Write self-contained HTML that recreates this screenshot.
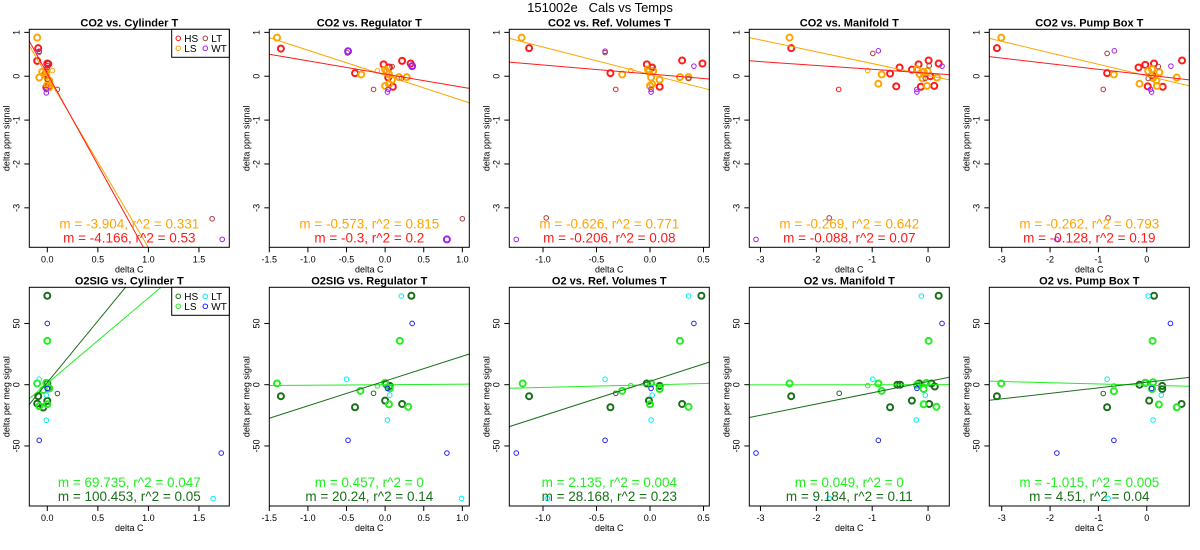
<!DOCTYPE html>
<html><head><meta charset="utf-8"><style>
html,body{margin:0;padding:0;background:#fff;}
svg{display:block;font-family:"Liberation Sans",sans-serif;}
</style></head><body>
<svg id="chart" width="1200" height="550" viewBox="0 0 1200 550" xmlns="http://www.w3.org/2000/svg">
<text x="600" y="12" text-anchor="middle" font-size="13" style="white-space:pre" xml:space="preserve">151002e   Cals vs Temps</text>
</svg>
<script>
// ---- data (x, y, thick flag) ----
const titles = ["CO2 vs. Cylinder T","CO2 vs. Regulator T","CO2 vs. Ref. Volumes T","CO2 vs. Manifold T","CO2 vs. Pump Box T",
 "O2SIG vs. Cylinder T","O2SIG vs. Regulator T","O2 vs. Ref. Volumes T","O2 vs. Manifold T","O2 vs. Pump Box T"];
const xRanges = [[-0.178,1.8],[-1.5,1.09],[-1.315,0.554],[-3.2,0.38],[-3.257,0.88]];
const xTicks = [[0,0.5,1,1.5],[-1.5,-1,-0.5,0,0.5,1],[-1,-0.5,0,0.5],[-3,-2,-1,0],[-3,-2,-1,0]];
const xTickLabels = [["0.0","0.5","1.0","1.5"],["-1.5","-1.0","-0.5","0.0","0.5","1.0"],["-1.0","-0.5","0.0","0.5"],["-3","-2","-1","0"],["-3","-2","-1","0"]];
const yTicksTop = [-3,-2,-1,0,1];
const yTicksBot = [-50,0,50];
const yRangeTop = [-3.9,1.07];
const yRangeBot = [-99,79.5];

const p1_HS=[[-0.09,0.64,1],[-0.1,0.35,1],[0,0.29,1],[0.01,0.28,1],[-0.02,0.05,1],[-0.01,-0.25,1],[0.02,-0.23,1],[0.1,-0.3,0]];
const p1_LS=[[-0.1,0.88,1],[-0.08,-0.03,1],[-0.05,0.1,1],[-0.01,0.1,1],[0.01,-0.09,1],[0,-0.2,1],[0.02,-0.1,1],[0.02,-0.25,1],[-0.01,0.02,1],[0.05,0.13,0]];
const p1_LT=[[-0.08,0.55,0],[1.63,-3.25,0],[0,-0.07,0],[0,0.2,0]];
const p1_WT=[[-0.08,0.57,0],[1.73,-3.72,0],[0,0.24,0],[-0.01,-0.38,0],[-0.01,-0.3,0]];

const p2_HS=[[-1.35,0.63,1],[-0.39,0.07,1],[-0.15,-0.3,0],[-0.02,0.27,1],[0.05,0.2,1],[0.04,-0.03,1],[0.1,-0.24,1],[0.22,0.35,1],[0.33,0.29,1]];
const p2_LS=[[-1.4,0.88,1],[-0.31,0.04,1],[-0.1,0.12,0],[0,0.15,1],[0.02,0.1,1],[0.05,0.05,1],[0,-0.22,1],[0.05,-0.18,1],[0.09,-0.08,1],[0.18,-0.02,1],[0.28,-0.02,1]];
const p2_LT=[[-0.49,0.53,0],[1.0,-3.25,0],[0.21,-0.05,0],[0.09,0.22,0]];
const p2_WT=[[-0.48,0.57,1],[0.8,-3.72,1],[0.35,0.23,1],[0.03,-0.36,0],[0.04,-0.3,0]];

const p3_HS=[[-1.13,0.64,1],[-0.37,0.07,1],[-0.32,-0.3,0],[-0.03,0.27,1],[0.02,0.2,1],[0.09,-0.24,1],[0.3,0.36,1],[0.49,0.29,1]];
const p3_LS=[[-1.2,0.88,1],[-0.26,0.04,1],[-0.18,0.13,0],[-0.02,0.16,1],[-0.01,0.1,1],[0.03,0.12,1],[0.01,-0.03,1],[0,-0.22,1],[0.02,-0.18,1],[0.09,-0.08,1],[0.28,-0.02,1],[0.36,-0.02,1]];
const p3_LT=[[-0.42,0.54,0],[-0.97,-3.23,0],[0.36,-0.05,0],[0.02,0.2,0]];
const p3_WT=[[-0.42,0.57,0],[-1.25,-3.72,0],[0.41,0.23,0],[0.01,-0.36,0],[0.01,-0.3,0]];

const p4_HS=[[-2.45,0.64,1],[-1.6,-0.3,0],[-0.68,0.06,1],[-0.57,-0.23,1],[-0.51,0.2,1],[-0.29,0.15,1],[-0.17,0.27,1],[-0.13,-0.24,1],[0.01,0.36,1],[0.19,0.29,1],[0.11,-0.22,1],[0.04,0,1]];
const p4_LS=[[-2.48,0.88,1],[-0.89,-0.17,1],[-0.83,0.04,1],[-1.08,0.13,0],[-0.2,0.16,1],[-0.15,0.05,1],[-0.08,0.1,1],[-0.01,0.12,1],[-0.02,-0.22,1],[0.16,-0.03,1],[-0.1,-0.05,1]];
const p4_LT=[[-0.99,0.52,0],[-1.77,-3.23,0],[0.02,0.24,0],[-0.05,-0.05,0]];
const p4_WT=[[-0.89,0.58,0],[-3.08,-3.72,0],[0.25,0.23,0],[-0.2,-0.3,0],[-0.2,-0.36,0]];

const p5_HS=[[-3.1,0.64,1],[-0.82,0.07,1],[-0.9,-0.3,0],[-0.17,0.2,1],[-0.03,0.26,1],[0.15,0.29,1],[0.02,-0.23,1],[0.33,-0.24,1],[0.73,0.36,1],[0.11,0.02,1]];
const p5_LS=[[-3.01,0.88,1],[-0.68,0.04,1],[-0.15,-0.17,1],[0.03,0.12,1],[0.11,0.16,1],[0.13,-0.04,1],[0.21,-0.22,1],[0.26,0.09,1],[0.2,-0.1,1],[0.62,-0.03,1]];
const p5_LT=[[-0.82,0.52,0],[-0.8,-3.23,0],[0.24,0.22,0],[0.03,-0.05,0]];
const p5_WT=[[-0.67,0.58,0],[-1.86,-3.72,0],[0.5,0.23,0],[0.08,-0.3,0],[0.1,-0.36,0]];

const p6_HS=[[0,72.6,1],[-0.09,-9.4,1],[-0.1,-15.4,1],[-0.04,-18.6,1],[0,-13.2,1],[0,1,1],[0.01,-3,1],[0.1,-7.2,0]];
const p6_LS=[[0,35.8,1],[-0.1,1,1],[-0.08,-17.5,1],[0,-16,1],[-0.01,1.5,1],[0.02,-3,1],[-0.04,-4.3,1]];
const p6_LT=[[-0.08,4.5,0],[-0.01,-8.5,0],[-0.01,-29,0],[1.64,-93,0]];
const p6_WT=[[0,50,0],[-0.08,-45.4,0],[1.72,-55.8,0],[0,-3,0]];

const p7_HS=[[0.34,72.6,1],[-1.35,-9.4,1],[-0.39,-18.4,1],[0,-13,1],[0.22,-15.7,1],[-0.15,-7,0],[0.01,0.5,1],[0.06,-1,1]];
const p7_LS=[[0.19,35.8,1],[-1.4,1,1],[-0.32,-5,1],[0.05,-16,1],[0.3,-18,1],[0,1.5,1],[0.06,-3,1],[-0.1,-1,0]];
const p7_LT=[[0.21,72.4,0],[-0.5,4.5,0],[0.06,-8.5,0],[0.03,-28.8,0],[0.99,-92.8,0]];
const p7_WT=[[0.35,50,0],[-0.48,-45.4,0],[0.8,-55.8,0],[0.03,-3,0]];

const p8_HS=[[0.48,72.6,1],[-1.13,-9.4,1],[-0.37,-18.4,1],[-0.01,-13,1],[0.3,-15.7,1],[-0.32,-7,0],[-0.03,1,1],[0.09,-1,1]];
const p8_LS=[[0.28,35.8,1],[-1.19,1,1],[-0.26,-5,1],[0,-16,1],[0.36,-18,1],[0.01,1,1],[0.09,-3.5,1],[-0.18,-0.7,0]];
const p8_LT=[[0.36,72.4,0],[-0.42,4.5,0],[0.02,-8.5,0],[0.01,-28.8,0],[-0.96,-92.8,0]];
const p8_WT=[[0.41,50,0],[-0.42,-45.4,0],[-1.25,-55.8,0],[0.01,-3,0]];

const p9_HS=[[0.19,72.6,1],[-2.45,-9.4,1],[-0.68,-18.4,1],[-0.29,-13,1],[0.02,-15.7,1],[-1.59,-7,0],[-0.55,0,1],[-0.5,0,1],[-0.16,1,1],[0.06,1,1],[0.12,-1.5,1]];
const p9_LS=[[0.01,35.8,1],[-2.48,1,1],[-0.83,-5,1],[-0.08,-16,1],[0.15,-18,1],[-0.89,1,1],[-0.03,1.5,1],[-0.08,-3.5,1],[-0.2,0,1],[-1.08,-0.7,0]];
const p9_LT=[[-0.12,72.4,0],[-0.99,4.5,0],[-0.05,-8.5,0],[-0.21,-28.8,0],[-1.77,-92.8,0]];
const p9_WT=[[0.25,50,0],[-0.89,-45.4,0],[-3.08,-55.8,0],[-0.2,-3,0]];

const p10_HS=[[0.15,72.6,1],[-3.1,-9.4,1],[-0.82,-18.4,1],[0.05,-13,1],[0.72,-15.7,1],[-0.9,-7.2,0],[-0.15,0,1],[-0.03,1.5,1],[0.32,-1,1],[0.32,-3.5,1]];
const p10_LS=[[0.12,35.8,1],[-3.01,1,1],[-0.68,-5.3,1],[0.25,-16.2,1],[0.62,-18.4,1],[-0.02,1.5,1],[0.13,2,1],[0.11,-3.5,1],[-0.68,-1,0]];
const p10_LT=[[0.03,72.4,0],[-0.82,4.5,0],[0.3,-8.5,0],[0.13,-28.8,0],[-0.8,-92.8,0]];
const p10_WT=[[0.49,50,0],[-0.68,-45.4,0],[-1.86,-55.8,0],[0.1,-3,0]];

// fits: slope, intercept, label
const fitLS_slope=[-3.904,-0.573,-0.626,-0.269,-0.262,69.735,0.457,2.135,0.049,-1.015];
const fitLS_int=[0.0,0.02,0.04,0.02,0.01,1.1,0,-0.1,0,-0.4];
const fitLS_r2=["0.331","0.815","0.771","0.642","0.793","0.047","0","0.004","0","0.005"];
const fitHS_slope=[-4.166,-0.3,-0.206,-0.088,-0.128,100.453,20.24,28.168,9.184,4.51];
const fitHS_int=[0.06,0.05,0.05,0.07,0.03,1.8,3,2.8,2.6,2.0];
const fitHS_r2=["0.53","0.2","0.08","0.07","0.19","0.05","0.14","0.23","0.11","0.04"];
const fitLS_m=["-3.904","-0.573","-0.626","-0.269","-0.262","69.735","0.457","2.135","0.049","-1.015"];
const fitHS_m=["-4.166","-0.3","-0.206","-0.088","-0.128","100.453","20.24","28.168","9.184","4.51"];

const groups=[[p1_HS,p1_LS,p1_LT,p1_WT],[p2_HS,p2_LS,p2_LT,p2_WT],[p3_HS,p3_LS,p3_LT,p3_WT],[p4_HS,p4_LS,p4_LT,p4_WT],[p5_HS,p5_LS,p5_LT,p5_WT],
 [p6_HS,p6_LS,p6_LT,p6_WT],[p7_HS,p7_LS,p7_LT,p7_WT],[p8_HS,p8_LS,p8_LT,p8_WT],[p9_HS,p9_LS,p9_LT,p9_WT],[p10_HS,p10_LS,p10_LT,p10_WT]];
const groupNames=["HS","LS","LT","WT"];
const colTop=["#ff1a1a","#ffa500","#b03a3a","#a020f0"];
const colBot=["#1a6e1a","#22ee22","#00f0f0","#2020ff"];

const NS="http://www.w3.org/2000/svg";
const svg=document.getElementById('chart');
function mk(tag,attrs,parent){const e=document.createElementNS(NS,tag);for(const k in attrs)e.setAttribute(k,attrs[k]);(parent||svg).appendChild(e);return e;}

for(let p=0;p<10;p++){
  const col=p%5, row=Math.floor(p/5);
  const L=29.3+240*col, R=L+200;
  const T=row?287.3:29.3, B=row?506:247.3;
  const xr=xRanges[col], yr=row?yRangeBot:yRangeTop;
  const sx=v=>L+(v-xr[0])/(xr[1]-xr[0])*(R-L);
  const sy=v=>B-(v-yr[0])/(yr[1]-yr[0])*(B-T);
  const cols=row?colBot:colTop;
  const g=mk('g',{});
  
  
  const cp=mk('clipPath',{id:'clip'+p},g);
  mk('rect',{x:L,y:T,width:R-L,height:B-T},cp);
  const t=mk('text',{x:(L+R)/2,y:T-3,'text-anchor':'middle','font-size':11,'font-weight':'bold'},g);
  t.textContent=titles[p];
  
  
  xTicks[col].forEach((v,i)=>{
    mk('line',{x1:sx(v),x2:sx(v),y1:B,y2:B+5,stroke:'#000','stroke-width':1},g);
    const tl=mk('text',{x:sx(v),y:B+15,'text-anchor':'middle','font-size':9},g);
    tl.textContent=xTickLabels[col][i];
    
    
  });
  const xl=mk('text',{x:(L+R)/2,y:B+25,'text-anchor':'middle','font-size':9},g);
  xl.textContent='delta C';
  
  
  const yt=row?yTicksBot:yTicksTop;
  yt.forEach(v=>{
    mk('line',{x1:L-5,x2:L,y1:sy(v),y2:sy(v),stroke:'#000','stroke-width':1},g);
    const tl=mk('text',{x:L-10,y:sy(v),'text-anchor':'middle','font-size':9,transform:`rotate(-90 ${L-10} ${sy(v)})`},g);
    tl.textContent=String(v);
    
    
  });
  const yx=L-20, yc=(T+B)/2;
  const yl=mk('text',{x:yx,y:yc,'text-anchor':'middle','font-size':9,transform:`rotate(-90 ${yx} ${yc})`},g);
  yl.textContent=row?'delta per meg signal':'delta ppm signal';
  
  
  groups[p].forEach((arr,gi)=>{
    arr.forEach(pt=>{
      const c=mk('circle',{cx:sx(pt[0]),cy:sy(pt[1]),r:pt[2]?3:2.3,fill:'none',stroke:cols[gi],'stroke-width':pt[2]?2:1,'clip-path':`url(#clip${p})`},g);
      
      
    });
  });
  [[fitLS_slope[p],fitLS_int[p],cols[1]],[fitHS_slope[p],fitHS_int[p],cols[0]]].forEach((f,i)=>{
    const ln=mk('line',{x1:sx(xr[0]),y1:sy(f[1]+f[0]*xr[0]),x2:sx(xr[1]),y2:sy(f[1]+f[0]*xr[1]),stroke:f[2],'stroke-width':1,'clip-path':`url(#clip${p})`},g);
    
    
  });
  const a1=mk('text',{x:(L+R)/2,y:B-19,'text-anchor':'middle','font-size':13.5,fill:cols[1]},g);
  a1.textContent=`m = ${fitLS_m[p]}, r^2 = ${fitLS_r2[p]}`;
  
  
  const a2=mk('text',{x:(L+R)/2,y:B-5,'text-anchor':'middle','font-size':13.5,fill:cols[0]},g);
  a2.textContent=`m = ${fitHS_m[p]}, r^2 = ${fitHS_r2[p]}`;
  
  
  mk('rect',{x:L,y:T,width:R-L,height:B-T,fill:'none',stroke:'#000','stroke-width':1},g);
  if(col===0){
    const lg=mk('g',{},g);
    
    
    mk('rect',{x:R-57.6,y:T,width:57.6,height:28,fill:'#fff',stroke:'#000','stroke-width':1},lg);
    groupNames.forEach((n,i)=>{
      const cx=R-51+(i>1?27:0), cy=T+9+(i%2)*10;
      mk('circle',{cx:cx,cy:cy,r:2.3,fill:'none',stroke:cols[i],'stroke-width':1},lg);
      const tx=mk('text',{x:cx+6,y:cy+3.5,'font-size':10},lg);
      tx.textContent=n;
      
      
    });
  }
}
</script>
</body></html>
